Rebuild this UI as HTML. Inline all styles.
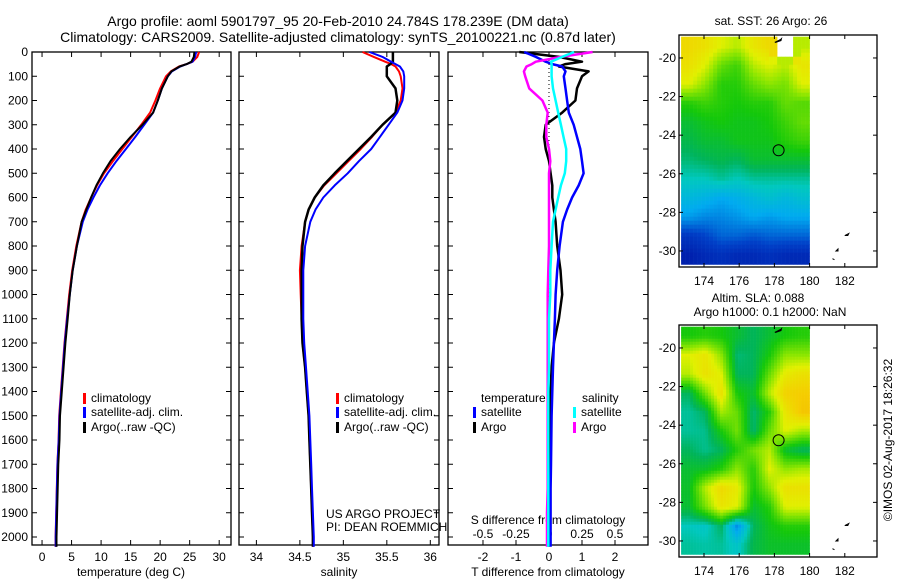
<!DOCTYPE html>
<html><head><meta charset="utf-8"><style>
body{margin:0;background:#fff}
svg{display:block;font-family:"Liberation Sans",sans-serif}
</style></head><body>
<svg id="c" width="900" height="580" xmlns="http://www.w3.org/2000/svg">
<g id="g"></g>
</svg>
<script>
const depthLevels=[0,20,40,50,60,80,100,150,200,250,300,350,400,450,500,550,600,650,700,800,900,1000,1100,1200,1300,1400,1500,1600,1700,1800,1900,2000,2040];
const tempClim=[26.6,26.3,25.5,24.5,23.2,21.8,21.0,20.0,19.2,18.3,16.8,15.2,13.6,12.0,10.5,9.3,8.3,7.4,6.7,5.8,5.1,4.6,4.2,3.8,3.5,3.2,2.9,2.8,2.6,2.5,2.4,2.3,2.3];
const tempSat=[26.1,25.9,25.5,24.5,23.4,22.0,21.3,20.3,19.6,18.8,17.3,15.8,14.2,12.6,11.1,9.8,8.7,7.7,6.9,5.9,5.2,4.7,4.25,3.85,3.55,3.25,2.95,2.82,2.62,2.52,2.42,2.32,2.32];
const tempArgo=[25.8,25.7,25.3,24.5,23.3,21.9,21.3,20.3,19.6,18.8,17.0,15.0,13.2,11.6,10.3,9.2,8.3,7.5,6.7,5.9,5.2,4.7];
const salClim=[35.22,35.35,35.48,35.55,35.6,35.64,35.66,35.68,35.66,35.6,35.45,35.33,35.2,35.06,34.92,34.78,34.67,34.6,34.56,34.52,34.5,34.51,34.52,34.53,34.56,34.58,34.6,34.61,34.62,34.63,34.64,34.65,34.65];
const salSat=[35.3,35.45,35.55,35.6,35.65,35.69,35.7,35.7,35.68,35.62,35.52,35.42,35.32,35.18,35.05,34.9,34.77,34.68,34.62,34.56,34.54,34.54,34.54,34.55,34.57,34.59,34.61,34.62,34.63,34.64,34.65,34.66,34.66];
const salArgo=[35.57,35.57,35.57,35.54,35.5,35.5,35.5,35.6,35.62,35.6,35.45,35.32,35.18,35.04,34.9,34.77,34.67,34.6,34.56,34.53,34.52,34.52];
const tDiffSat=[-0.75,-0.4,-0.1,0.1,0.4,0.5,0.45,0.5,0.55,0.6,0.75,0.85,0.95,1.0,1.05,0.9,0.7,0.55,0.42,0.32,0.25,0.2,0.18,0.15,0.12,0.1,0.08,0.07,0.06,0.05,0.05,0.05,0.05];
const tDiffArgo=[-0.9,0.3,1.0,0.5,0.3,1.2,1.0,0.85,0.8,0.4,-0.1,-0.15,-0.1,0.0,0.05,0.1,0.1,0.15,0.2,0.25,0.35,0.4,0.3,0.15,0.08,0.05,0.03,0.02,0.02,0.01,0.0,0.0,0.0];
const sDiffSat=[0.19,0.1,0.015,0.02,0.02,0.02,0.02,0.03,0.05,0.07,0.09,0.11,0.13,0.13,0.12,0.09,0.07,0.05,0.03,0.02,0.01,0.01,0.0,0.0,0.0,-0.005,-0.005,-0.005,-0.005,-0.005,-0.005,-0.005,-0.005];
const sDiffArgo=[0.33,0.09,-0.1,-0.13,-0.17,-0.19,-0.18,-0.15,-0.05,-0.01,-0.02,-0.02,0.0,0.01,0.0,0.0,0.0,0.0,0.0,0.0,-0.005,-0.01,-0.01,-0.01,-0.01,-0.01,-0.01,-0.01,-0.01,-0.01,-0.015,-0.015,-0.015];
const depthTicks=[0,100,200,300,400,500,600,700,800,900,1000,1100,1200,1300,1400,1500,1600,1700,1800,1900,2000];
const tempTicks=[0,5,10,15,20,25,30];
const salTicks=[34,34.5,35,35.5,36];
const salTickLabels=["34","34.5","35","35.5","36"];
const tDiffTicks=[-2,-1,0,1,2];
const sDiffTicks=[-0.5,-0.25,0,0.25,0.5];
const sDiffTickLabels=["-0.5","-0.25","0","0.25","0.5"];
const lonTicks=[174,176,178,180,182];
const latTicks=[-20,-22,-24,-26,-28,-30];
const sstGrid=[
[0.95,0.92,0.85,0.8,0.9,0.95,NaN,0.8],
[0.92,0.85,0.7,0.65,0.8,0.85,0.8,0.9],
[0.85,0.75,0.62,0.62,0.7,0.75,0.72,0.85],
[0.62,0.65,0.62,0.6,0.62,0.62,0.7,0.68],
[0.55,0.58,0.6,0.58,0.58,0.6,0.65,0.7],
[0.52,0.55,0.55,0.58,0.58,0.58,0.62,0.65],
[0.48,0.5,0.52,0.5,0.55,0.55,0.55,0.55],
[0.42,0.42,0.45,0.42,0.45,0.45,0.45,0.45],
[0.35,0.33,0.3,0.32,0.35,0.38,0.35,0.38],
[0.28,0.25,0.25,0.27,0.3,0.28,0.3,0.3],
[0.12,0.15,0.2,0.2,0.18,0.2,0.2,0.2],
[0.05,0.08,0.1,0.08,0.08,0.1,0.08,0.08]];
const slaGrid=[
[0.6,0.62,0.6,0.55,0.5,0.55,0.6,0.62],
[0.85,0.9,0.75,0.48,0.5,0.6,0.75,0.75],
[0.8,0.92,0.85,0.5,0.5,0.7,0.88,0.92],
[0.5,0.72,0.92,0.6,0.55,0.8,0.98,1.0],
[0.45,0.5,0.78,0.7,0.48,0.62,0.9,1.02],
[0.45,0.46,0.6,0.72,0.48,0.7,0.85,0.78],
[0.5,0.46,0.5,0.62,0.72,0.8,0.55,0.5],
[0.55,0.56,0.62,0.75,0.62,0.85,0.75,0.78],
[0.56,0.8,0.95,0.88,0.6,0.75,0.92,0.92],
[0.55,0.72,0.9,0.85,0.55,0.62,0.85,0.85],
[0.42,0.4,0.5,0.25,0.5,0.58,0.62,0.62],
[0.45,0.44,0.45,0.4,0.52,0.56,0.56,0.56]];
const argoLon=178.239, argoLat=-24.784;

const NS="http://www.w3.org/2000/svg";
const G=document.getElementById('g');
function el(t,a,p){const e=document.createElementNS(NS,t);for(const k in a)e.setAttribute(k,a[k]);(p||G).appendChild(e);return e;}
function txt(x,y,s,a,size,anchor,name){const e=el('text',{x:x,y:y,'font-size':size||12,'text-anchor':anchor||'middle',fill:'#000'});e.textContent=s;


return e;}
const TOP=52,BOT=545;
const yD=d=>TOP+d*0.2425;
const panels=[{x0:32,x1:231,lo:-1.7,hi:32},{x0:239,x1:439,lo:33.8,hi:36.1},{x0:448,x1:648,lo:-3.06,hi:3.0}];
function xs(p,v){return p.x0+(v-p.lo)/(p.hi-p.lo)*(p.x1-p.x0);}
function line(p,vals,col,w,name,conv){let d='';vals.forEach((v,i)=>{const x=xs(p,conv?conv(v):v),y=yD(depthLevels[i]);d+=(i?'L':'M')+x.toFixed(1)+' '+y.toFixed(1);});
const e=el('path',{d:d,fill:'none',stroke:col,'stroke-width':w,'stroke-linejoin':'round'});

}
txt(338,26,"Argo profile: aoml 5901797_95 20-Feb-2010 24.784S 178.239E (DM data)",0,14,'middle','title-line-1');
txt(338,42,"Climatology: CARS2009. Satellite-adjusted climatology: synTS_20100221.nc (0.87d later)",0,14,'middle','title-line-2');
panels.forEach((p,i)=>{const r=el('rect',{x:p.x0,y:TOP,width:p.x1-p.x0,height:BOT-TOP,fill:'none',stroke:'#000','stroke-width':1.3});


depthTicks.forEach(d=>{el('line',{x1:p.x0,x2:p.x0+5,y1:yD(d),y2:yD(d),stroke:'#000'});el('line',{x1:p.x1,x2:p.x1-5,y1:yD(d),y2:yD(d),stroke:'#000'});});});
depthTicks.forEach(d=>txt(28,yD(d)+4,String(d),0,12,'end','depth-tick-label'));
const P1=panels[0],P2=panels[1],P3=panels[2];
tempTicks.forEach(t=>{const x=xs(P1,t);el('line',{x1:x,x2:x,y1:TOP,y2:TOP+5,stroke:'#000'});el('line',{x1:x,x2:x,y1:BOT,y2:BOT-5,stroke:'#000'});txt(x,561,String(t),0,12,'middle','temp-tick-label');});
txt(131,576,"temperature (deg C)",0,12,'middle','temp-axis-title');
salTicks.forEach((t,i)=>{const x=xs(P2,t);el('line',{x1:x,x2:x,y1:TOP,y2:TOP+5,stroke:'#000'});el('line',{x1:x,x2:x,y1:BOT,y2:BOT-5,stroke:'#000'});txt(x,561,salTickLabels[i],0,12,'middle','sal-tick-label');});
txt(339,576,"salinity",0,12,'middle','sal-axis-title');
tDiffTicks.forEach(t=>{const x=xs(P3,t);el('line',{x1:x,x2:x,y1:BOT,y2:BOT-5,stroke:'#000'});txt(x,561,String(t),0,12,'middle','tdiff-tick-label');});
sDiffTicks.forEach((t,i)=>{const x=xs(P3,t*4);el('line',{x1:x,x2:x,y1:TOP,y2:TOP+5,stroke:'#000'});txt(x,538,sDiffTickLabels[i],0,12,'middle','sdiff-tick-label');});
txt(548,524,"S difference from climatology",0,12,'middle','sdiff-axis-title');
txt(548,576,"T difference from climatology",0,12,'middle','tdiff-axis-title');
el('line',{x1:xs(P3,0),x2:xs(P3,0),y1:TOP,y2:BOT,stroke:'#000','stroke-dasharray':'1 3'});
line(P1,tempClim,'#f00',2,'temp-climatology-line');
line(P1,tempSat,'#00f',2,'temp-satellite-line');
line(P1,tempArgo.concat(tempClim.slice(tempArgo.length).map(v=>v+0.15)),'#000',2,'temp-argo-line');
line(P2,salClim,'#f00',2,'sal-climatology-line');
line(P2,salArgo.concat(salClim.slice(salArgo.length)),'#000',2.5,'sal-argo-line');
line(P2,salSat,'#00f',2,'sal-satellite-line');
line(P3,tDiffArgo,'#000',2.5,'tdiff-argo-line');
line(P3,tDiffSat,'#00f',2.5,'tdiff-satellite-line');
line(P3,sDiffArgo,'#f0f',2.5,'sdiff-argo-line',v=>v*4);
line(P3,sDiffSat,'#0ff',2.5,'sdiff-satellite-line',v=>v*4);
function leg(x,y,col,label,name){const m=el('rect',{x:x,y:y-9,width:3,height:11,fill:col});txt(x+8,y,label,0,12,'start',name);}
[[P1,83],[P2,336]].forEach(([p,x],i)=>{leg(x,402,'#f00','climatology','legend-climatology');leg(x,416,'#00f','satellite-adj. clim.','legend-satellite');leg(x,431,'#000','Argo(..raw -QC)','legend-argo');});
txt(481,402,"temperature",0,12,'start','legend-temperature-header');
txt(582,402,"salinity",0,12,'start','legend-salinity-header');
leg(473,416,'#00f','satellite','legend-t-satellite');leg(473,431,'#000','Argo','legend-t-argo');
leg(573,416,'#0ff','satellite','legend-s-satellite');leg(573,431,'#f0f','Argo','legend-s-argo');
txt(326,518,"US ARGO PROJECT",0,12,'start','project-credit');
txt(326,531,"PI: DEAN ROEMMICH",0,12,'start','pi-credit');
const stops=[[0,[0,16,160]],[0.15,[0,64,200]],[0.3,[0,170,240]],[0.42,[0,200,190]],[0.5,[0,180,90]],[0.6,[20,200,10]],[0.75,[140,230,0]],[0.85,[225,240,0]],[1,[245,205,0]],[1.1,[240,170,0]]];
function cmap(v){v=Math.max(0,Math.min(1.1,v));for(let i=1;i<stops.length;i++){if(v<=stops[i][0]){const a=stops[i-1],b=stops[i],t=(v-a[0])/(b[0]-a[0]);return 'rgb('+a[1].map((c,k)=>Math.round(c+(b[1][k]-c)*t)).join(',')+')';}}return 'rgb(240,170,0)';}
function samp(gr,fx,fy){const R=gr.length,C=gr[0].length;const x=Math.max(0,Math.min(C-1,fx*C-0.5)),y=Math.max(0,Math.min(R-1,fy*R-0.5));const i=Math.floor(y),j=Math.floor(x),i2=Math.min(R-1,i+1),j2=Math.min(C-1,j+1),ty=y-i,tx=x-j;
const v=[gr[i][j],gr[i][j2],gr[i2][j],gr[i2][j2]];if(v.some(isNaN)){const n=gr[Math.round(y)][Math.round(x)];return n;}
return v[0]*(1-tx)*(1-ty)+v[1]*tx*(1-ty)+v[2]*(1-tx)*ty+v[3]*tx*ty;}
function map(y0,gr,name,cell){const lx=l=>679+(l-172.58)*17.6, ly=l=>y0+(-18.81-l)*19.3;
const g=el('g',{});
const X0=lx(172.7),X1=lx(180.0),Y0=ly(-18.9),Y1=ly(-30.7);
for(let y=Y0;y<Y1;y+=cell)for(let x=X0;x<X1;x+=cell){const v=samp(gr,(x+cell/2-X0)/(X1-X0),(y+cell/2-Y0)/(Y1-Y0));if(isNaN(v))continue;
const r=el('rect',{x:x.toFixed(1),y:y.toFixed(1),width:Math.min(cell,X1-x)+0.3,height:Math.min(cell,Y1-y)+0.3,fill:cmap(v)},g);

}
const f=el('rect',{x:679,y:y0,width:198,height:232,fill:'none',stroke:'#000','stroke-width':1.3});
lonTicks.forEach(l=>{const x=lx(l);el('line',{x1:x,x2:x,y1:y0,y2:y0+4,stroke:'#000'});el('line',{x1:x,x2:x,y1:y0+232,y2:y0+228,stroke:'#000'});txt(x,y0+250,String(l),0,12,'middle','lon-tick-label');});
latTicks.forEach(l=>{const y=ly(l);el('line',{x1:679,x2:683,y1:y,y2:y,stroke:'#000'});el('line',{x1:877,x2:873,y1:y,y2:y,stroke:'#000'});txt(676,y+4,String(l),0,12,'end','lat-tick-label');});
el('path',{d:`M${lx(178)} ${y0+7}l6 -3l2 -2l-1 4l-6 2z`,fill:'#000'});
el('path',{d:`M${lx(182)} ${ly(-29.2)}l4 -2l-1 2z M${lx(181.5)} ${ly(-30)}l2 -2l0 2z M${lx(181.3)} ${ly(-30.4)}l2 1z`,fill:'none',stroke:'#000'});
const c=el('circle',{cx:lx(argoLon),cy:ly(argoLat),r:5.5,fill:'none',stroke:'#000','stroke-width':1});}
map(35,sstGrid,'sst-map',4);
map(325,slaGrid,'sla-map',3);
txt(771,25,"sat. SST: 26 Argo: 26",0,12,'middle','sst-map-title');
txt(758,302,"Altim. SLA: 0.088",0,12,'middle','sla-map-title');
txt(770,316,"Argo h1000: 0.1 h2000: NaN",0,12,'middle','sla-map-subtitle');
const cr=txt(0,0,"©IMOS 02-Aug-2017 18:26:32",0,12,'middle','imos-credit');cr.setAttribute('transform','translate(892,440) rotate(-90)');
</script>
</body></html>
